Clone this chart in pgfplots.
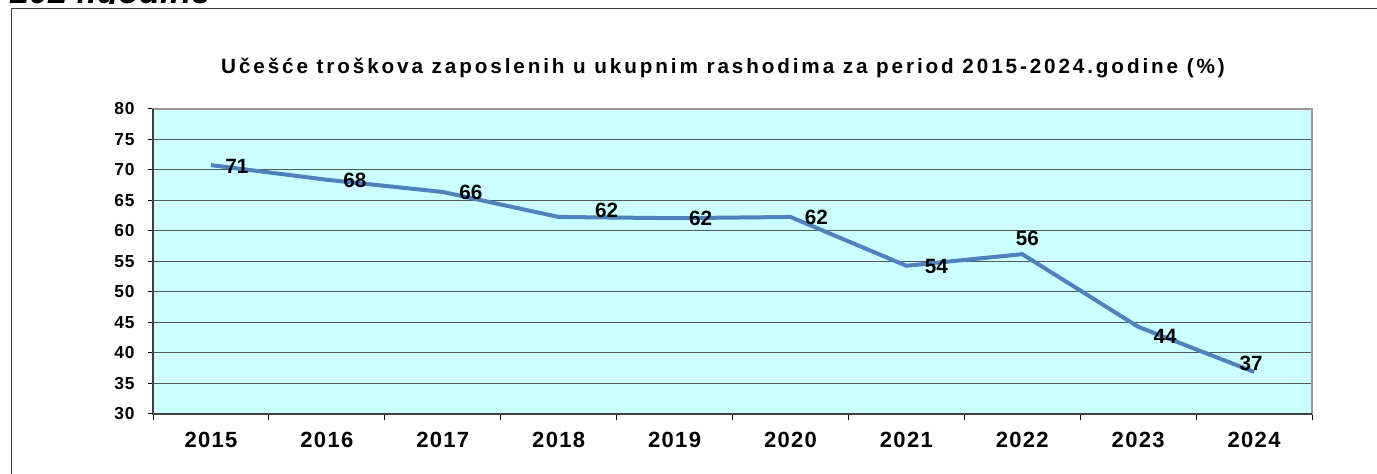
\documentclass[border=0pt]{standalone}
\usepackage{pgfplots}
\pgfplotsset{compat=1.18}
\usepackage{pgfplotstable}
\usepackage{fontspec}
\setmainfont{Liberation Sans}
\definecolor{bgc}{HTML}{CCFFFF}
\definecolor{linec}{HTML}{4F81BD}
\definecolor{gridc}{HTML}{505A5A}
\definecolor{framec}{HTML}{404040}
\definecolor{boxc}{HTML}{999999}
\pgfplotstableread{
x y dx dy
1 70.8 19.5 -0.75
2 68.4 21 -0.75
3 66.4 21 0
4 62.3 36 5.25
5 62.1 19.5 0
6 62.3 19.5 0
7 54.3 22.5 -0.75
8 56.2 3.75 12
9 44.3 20.25 -7.5
10 36.9 -2.25 6.75
}\datatable
\begin{document}
\begin{tikzpicture}
\useasboundingbox (0,0) rectangle (1032.75pt,355.5pt);
\begin{scope}
\clip (0,352.5pt) rectangle (400pt,355.5pt);
\node[anchor=base west, inner sep=0pt, font=\fontsize{26pt}{28pt}\selectfont\bfseries\itshape] at (7.5pt,352.6pt) {2024.godine};
\end{scope}
\draw[line width=1.1pt, color=framec] (8.625pt,0) -- (8.625pt,349.3pt) -- (1040pt,349.3pt);
\node[anchor=base, inner sep=0pt, font=\fontsize{15.5pt}{17pt}\selectfont\bfseries\addfontfeature{LetterSpace=14}] at (542.25pt,300.5pt) {Učešće troškova zaposlenih u ukupnim rashodima za period 2015-2024.godine (\%)};
\begin{axis}[
  at={(114.75pt,45pt)}, anchor=south west,
  scale only axis, width=869.25pt, height=228.75pt,
  xmin=0.5, xmax=10.5, ymin=30, ymax=80,
  xtick={1,2,3,4,5,6,7,8,9,10},
  xticklabels={2015,2016,2017,2018,2019,2020,2021,2022,2023,2024},
  minor xtick={0.5,1.5,2.5,3.5,4.5,5.5,6.5,7.5,8.5,9.5,10.5},
  ytick={30,35,40,45,50,55,60,65,70,75,80},
  xtick pos=bottom, ytick pos=left,
  ymajorgrids,
  major grid style={draw=gridc, line width=0.75pt},
  axis background/.style={fill=bgc},
  axis line style={draw=boxc, line width=1.1pt},
  tick align=outside,
  major tick length=3.75pt,
  minor tick length=4.5pt,
  major x tick style={draw=none},
  tick style={draw=black, line width=0.75pt},
  /pgf/number format/assume math mode=true,
  xticklabel style={font=\fontsize{16.5pt}{18pt}\selectfont\bfseries\addfontfeature{LetterSpace=6}, anchor=north, inner sep=0pt, yshift=-10pt},
  yticklabel style={font=\fontsize{13pt}{14pt}\selectfont\bfseries\addfontfeature{LetterSpace=4}, anchor=east, inner sep=0pt, xshift=-10pt},
  clip=false,
]
\addplot[color=linec, line width=3pt, mark=none,
  nodes near coords,
  point meta=explicit,
  visualization depends on={\thisrow{dx}\as\dx},
  visualization depends on={\thisrow{dy}\as\dy},
  nodes near coords style={anchor=center, inner sep=0pt, xshift=\dx pt, yshift=\dy pt, text=black, font=\fontsize{15.5pt}{17pt}\selectfont\bfseries, /pgf/number format/fixed, /pgf/number format/precision=0},
] table[x=x, y=y, meta=y] {\datatable};
\draw[line width=1.1pt, color=framec] (rel axis cs:0,1) -- (rel axis cs:0,0) -- (rel axis cs:1,0);
\end{axis}
\end{tikzpicture}
\end{document}
